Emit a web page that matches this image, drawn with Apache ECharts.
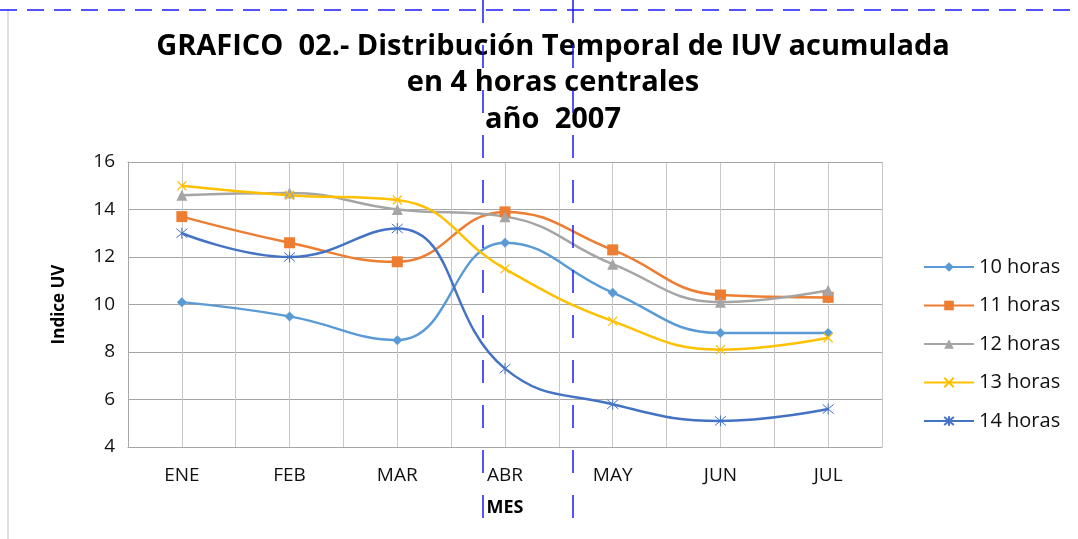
<!DOCTYPE html>
<html>
<head>
<meta charset="utf-8">
<script src="https://cdn.jsdelivr.net/npm/echarts@6/dist/echarts.min.js"></script>
<style>
  html, body { margin: 0; padding: 0; background: #fff; }
  #chart { width: 1078px; height: 539px; }
</style>
</head>
<body>
<div id="chart"></div>
<script>
const months = ['ENE', 'FEB', 'MAR', 'ABR', 'MAY', 'JUN', 'JUL'];
const yTicks = [4, 6, 8, 10, 12, 14, 16];

const h10 = [10.1, 9.5, 8.5, 12.6, 10.5, 8.8, 8.8];
const h11 = [13.7, 12.6, 11.8, 13.9, 12.3, 10.4, 10.3];
const h12 = [14.6, 14.7, 14.0, 13.7, 11.7, 10.1, 10.6];
const h13 = [15.0, 14.6, 14.4, 11.5, 9.3, 8.1, 8.6];
const h14 = [13.0, 12.0, 13.2, 7.3, 5.8, 5.1, 5.6];

const font = 'Open Sans';
const chart = echarts.init(document.getElementById('chart'));

const xMark = 'path://M0,0L10,10M10,0L0,10';
const starMark = 'path://M0,0L10,10M10,0L0,10M5,-1L5,11';

function serie(name, data, color, symbol, size, extra) {
  return Object.assign({
    name: name,
    type: 'line',
    data: data,
    smooth: 0.45,
    symbol: symbol,
    symbolSize: size,
    lineStyle: { color: color, width: 2.5 },
    itemStyle: { color: color },
    z: 3
  }, extra || {});
}

chart.setOption({
  animation: false,
  backgroundColor: '#fff',
  textStyle: { fontFamily: font },
  title: {
    text: 'GRAFICO  02.- Distribución Temporal de IUV acumulada\nen 4 horas centrales\naño  2007',
    left: 548,
    top: 23,
    textAlign: 'center',
    textStyle: { fontFamily: font, fontSize: 29, fontWeight: 'bold', color: '#000', lineHeight: 36.5 }
  },
  legend: {
    orient: 'vertical',
    left: 918,
    top: 252,
    itemWidth: 50,
    itemHeight: 12,
    itemGap: 18.5,
    textStyle: { fontFamily: font, fontSize: 20, color: '#111', lineHeight: 20 },
    data: ['10 horas', '11 horas', '12 horas', '13 horas', '14 horas']
  },
  grid: { left: 128, right: 196, top: 162, bottom: 92 },
  xAxis: [
    {
      type: 'category',
      data: months,
      boundaryGap: true,
      name: 'MES',
      nameLocation: 'middle',
      nameGap: 52,
      nameTextStyle: { fontFamily: font, fontSize: 18, fontWeight: 'bold', color: '#000' },
      axisLine: { show: true, lineStyle: { color: '#a6a6a6' } },
      axisTick: { show: false },
      axisLabel: { fontFamily: font, fontSize: 19, color: '#111', margin: 19 },
      splitLine: { show: false }
    },
    {
      // half-category grid lines
      type: 'value',
      min: 0,
      max: months.length * 2,
      interval: 1,
      show: true,
      position: 'top',
      axisLine: { show: true, lineStyle: { color: '#a6a6a6' } },
      axisTick: { show: false },
      axisLabel: { show: false },
      splitLine: { show: true, lineStyle: { color: '#c8c8c8', width: 1 } }
    }
  ],
  yAxis: {
    type: 'value',
    min: yTicks[0],
    max: yTicks[yTicks.length - 1],
    interval: 2,
    name: 'Indice UV',
    nameLocation: 'middle',
    nameGap: 60,
    nameRotate: 90,
    nameTextStyle: { fontFamily: font, fontSize: 17, fontWeight: 'bold', color: '#000' },
    axisLine: { show: true, lineStyle: { color: '#a6a6a6' } },
    axisTick: { show: false },
    axisLabel: { fontFamily: font, fontSize: 19, color: '#111', margin: 13 },
    splitLine: { show: true, lineStyle: { color: '#a6a6a6', width: 1 } }
  },
  series: [
    serie('10 horas', h10, '#5B9BD5', 'diamond', 10),
    serie('11 horas', h11, '#ED7D31', 'rect', 11),
    serie('12 horas', h12, '#A5A5A5', 'triangle', 11),
    serie('13 horas', h13, '#FFC000', xMark, 9, { itemStyle: { color: 'none', borderColor: '#FFC000', borderWidth: 1.2 } }),
    serie('14 horas', h14, '#4472C4', starMark, 11, { itemStyle: { color: 'none', borderColor: '#4472C4', borderWidth: 1 } })
  ],
  graphic: [
    { type: 'line', shape: { x1: 8, y1: 10, x2: 8, y2: 539 }, style: { stroke: '#bfbfbf', lineWidth: 1 } },
    { type: 'line', shape: { x1: 0, y1: 10, x2: 1078, y2: 10 }, style: { stroke: '#1a1aff', lineWidth: 1.5, lineDash: [17, 10] } },
    { type: 'line', shape: { x1: 483, y1: 0, x2: 483, y2: 539 }, style: { stroke: '#1a1aff', lineWidth: 1.5, lineDash: [23, 22] }, z: 10 },
    { type: 'line', shape: { x1: 573, y1: 0, x2: 573, y2: 539 }, style: { stroke: '#1a1aff', lineWidth: 1.5, lineDash: [23, 22] }, z: 10 }
  ]
});
</script>
</body>
</html>
